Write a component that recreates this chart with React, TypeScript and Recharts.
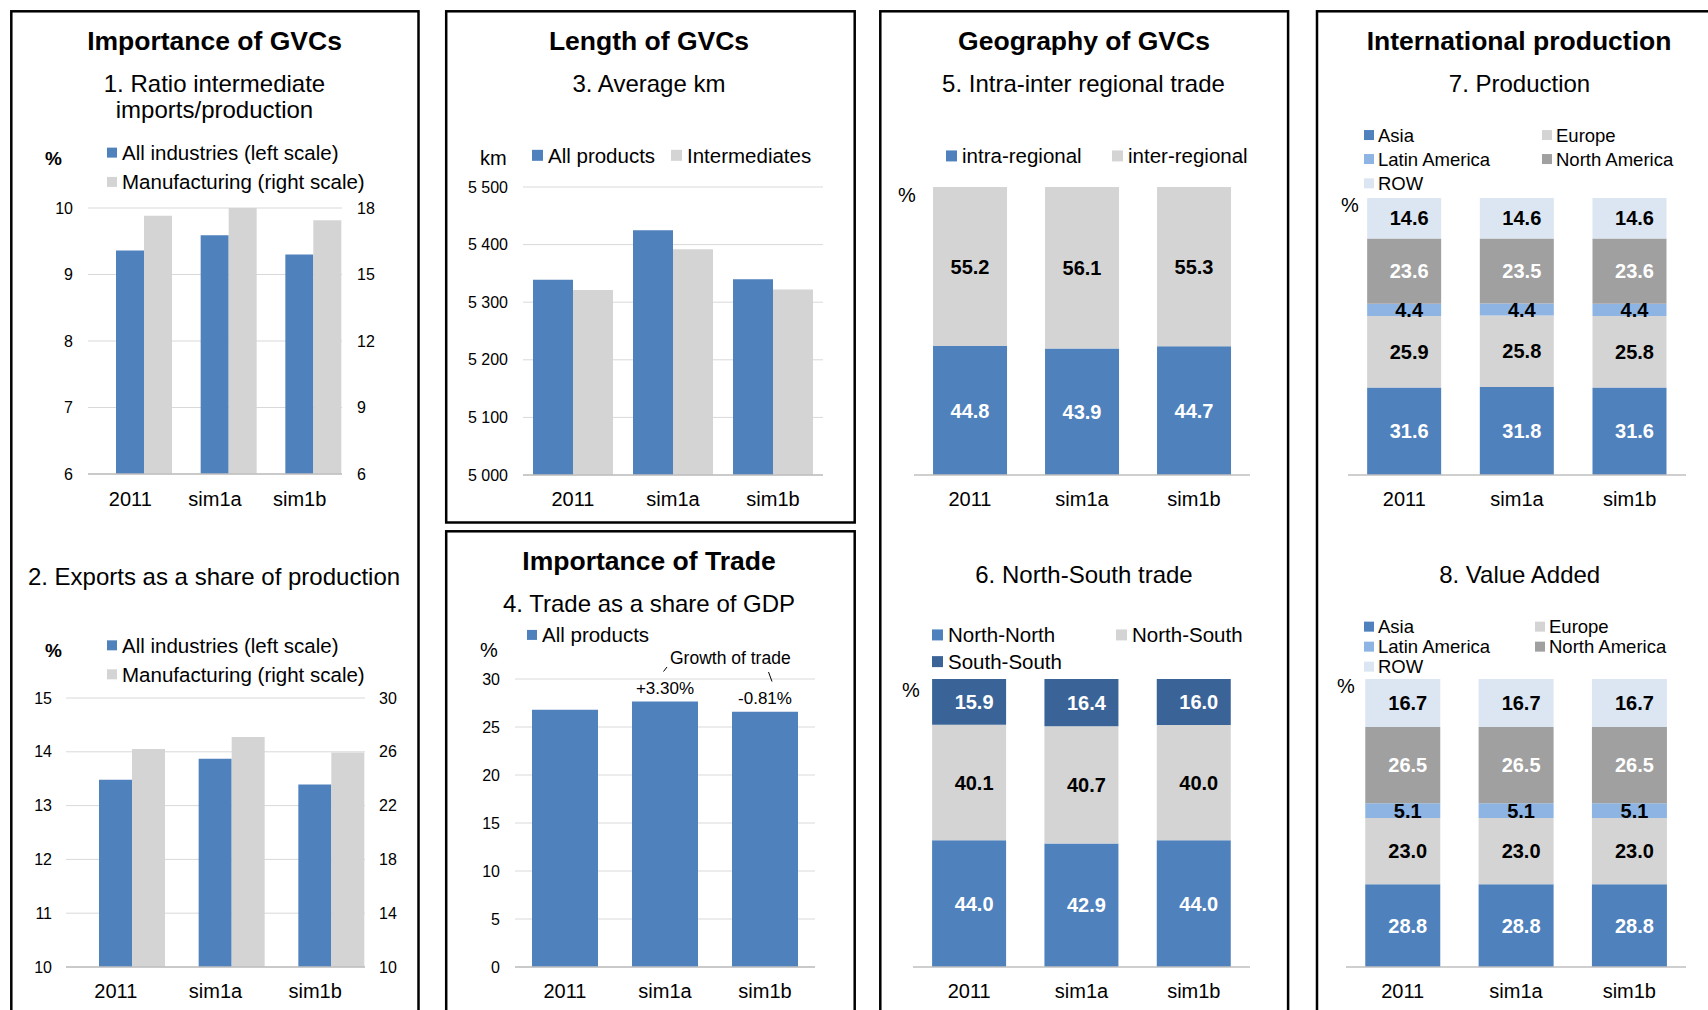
import { BarChart, Bar, XAxis, YAxis, CartesianGrid, LabelList } from 'recharts'

const categories = ['2011', 'sim1a', 'sim1b']

// 1. Ratio intermediate imports/production (%)
const ratioAll = [9.36, 9.59, 9.3]
const ratioManuf = [17.65, 18.1, 17.45]
const ratioLeftTicks = [6, 7, 8, 9, 10]
const ratioRightTicks = [6, 9, 12, 15, 18]

// 2. Exports as a share of production (%)
const exportsAll = [13.48, 13.87, 13.39]
const exportsManuf = [26.2, 27.1, 25.95]
const exportsLeftTicks = [10, 11, 12, 13, 14, 15]
const exportsRightTicks = [10, 14, 18, 22, 26, 30]

// 3. Average km
const kmAll = [5339, 5425, 5340]
const kmInter = [5321, 5392, 5322]
const kmTicks = [5000, 5100, 5200, 5300, 5400, 5500]

// 4. Trade as a share of GDP (%)
const tradeShare = [26.8, 27.65, 26.6]
const tradeGrowth = ['', '+3.30%', '-0.81%']
const tradeTicks = [0, 5, 10, 15, 20, 25, 30]

// 5. Intra-inter regional trade (%)
const intraRegional = [44.8, 43.9, 44.7]
const interRegional = [55.2, 56.1, 55.3]

// 6. North-South trade (%)
const northNorth = [44.0, 42.9, 44.0]
const northSouth = [40.1, 40.7, 40.0]
const southSouth = [15.9, 16.4, 16.0]

// 7. Production (%)
const prodAsia = [31.6, 31.8, 31.6]
const prodEurope = [25.9, 25.8, 25.8]
const prodLatAm = [4.4, 4.4, 4.4]
const prodNorthAm = [23.6, 23.5, 23.6]
const prodRow = [14.6, 14.6, 14.6]

// 8. Value Added (%)
const vaAsia = [28.8, 28.8, 28.8]
const vaEurope = [23.0, 23.0, 23.0]
const vaLatAm = [5.1, 5.1, 5.1]
const vaNorthAm = [26.5, 26.5, 26.5]
const vaRow = [16.7, 16.7, 16.7]

const FONT = '"Liberation Sans", Arial, Helvetica, sans-serif'
const BLUE = '#4F81BD'
const GREY = '#D4D4D4'
const DARK_BLUE = '#3A6497'
const LIGHT_BLUE = '#8DB4E2'
const MID_GREY = '#A0A0A0'
const PALE_BLUE = '#DCE6F2'
const AXIS_C = '#BFBFBF'
const GRID_C = '#D9D9D9'

const AXIS_W = 70
const XAXIS_H = 50

type Box = { x: number; y: number; w: number; h: number }

const rows = (cols: Record<string, Array<number | string>>) =>
  categories.map((cat, i) => {
    const r: Record<string, number | string> = { cat }
    for (const k in cols) r[k] = cols[k][i]
    return r
  })

function frame(p: Box, leftAxis: boolean, rightAxis: boolean) {
  return {
    style: { position: 'absolute' as const, left: Math.round(p.x - AXIS_W), top: Math.round(p.y - 10) },
    width: Math.round(p.w + 2 * AXIS_W),
    height: Math.round(p.h + 10 + XAXIS_H),
    margin: { top: 10, bottom: 0, left: leftAxis ? 0 : AXIS_W, right: rightAxis ? 0 : AXIS_W },
  }
}

const catAxis = (margin = 17) => (
  <XAxis
    dataKey="cat"
    height={XAXIS_H}
    interval={0}
    tickLine={false}
    tickSize={0}
    tickMargin={margin}
    axisLine={{ stroke: AXIS_C, strokeWidth: 1.5 }}
    tick={{ fill: '#000', fontSize: 20 }}
  />
)

// tick marks between categories, pointing up (Excel style)
const edgeAxis = () => (
  <XAxis
    xAxisId="edge"
    type="number"
    domain={[0, 3]}
    ticks={[0, 1, 2, 3]}
    allowDataOverflow
    mirror
    height={10}
    tick={false}
    tickSize={5}
    tickLine={{ stroke: AXIS_C, strokeWidth: 1.5 }}
    axisLine={false}
  />
)

const valueAxis = (id: string, side: 'left' | 'right', domain: number[], ticks: number[], margin: number, fmt?: (v: number) => string) => (
  <YAxis
    yAxisId={id}
    orientation={side}
    type="number"
    width={AXIS_W}
    domain={domain}
    ticks={ticks}
    allowDataOverflow
    interval={0}
    axisLine={false}
    tickLine={false}
    tickSize={0}
    tickMargin={margin}
    tickFormatter={fmt}
    tick={{ fill: '#000', fontSize: 16 }}
  />
)

const fmt1 = (v: any) => Number(v).toFixed(1)
const kmFmt = (v: number) => `${Math.floor(v / 1000)} ${String(v % 1000).padStart(3, '0')}`

type Series = { key: string; name: string; color: string; label: string }

const stackedChart = (p: Box, data: Record<string, number | string>[], series: Series[], dx: number) => {
  const f = frame(p, false, false)
  return (
    <div style={f.style}>
      <BarChart width={f.width} height={f.height} margin={f.margin} data={data} stackOffset="expand" barCategoryGap="17%">
        <YAxis hide domain={[0, 1]} />
        {edgeAxis()}
        {catAxis()}
        {series.map((s) => (
          <Bar key={s.key} dataKey={s.key} stackId="s" fill={s.color} isAnimationActive={false}>
            <LabelList dataKey={s.key} position="center" fill={s.label} fontSize={20} fontWeight="bold" formatter={fmt1} dx={dx} />
          </Bar>
        ))}
      </BarChart>
    </div>
  )
}

const geoSeries: Series[] = [
  { key: 'intra', name: 'intra-regional', color: BLUE, label: '#fff' },
  { key: 'inter', name: 'inter-regional', color: GREY, label: '#000' },
]
const nsSeries: Series[] = [
  { key: 'nn', name: 'North-North', color: BLUE, label: '#fff' },
  { key: 'ns', name: 'North-South', color: GREY, label: '#000' },
  { key: 'ss', name: 'South-South', color: DARK_BLUE, label: '#fff' },
]
const regionSeries: Series[] = [
  { key: 'asia', name: 'Asia', color: BLUE, label: '#fff' },
  { key: 'europe', name: 'Europe', color: GREY, label: '#000' },
  { key: 'latam', name: 'Latin America', color: LIGHT_BLUE, label: '#000' },
  { key: 'northam', name: 'North America', color: MID_GREY, label: '#fff' },
  { key: 'row', name: 'ROW', color: PALE_BLUE, label: '#000' },
]

const Title = ({ x, y, children }: { x: number; y: number; children: string }) => (
  <text x={x} y={y} textAnchor="middle" fontSize={26.5} fontWeight="bold" fill="#000">{children}</text>
)
const Sub = ({ x, y, children }: { x: number; y: number; children: string }) => (
  <text x={x} y={y} textAnchor="middle" fontSize={24} fill="#000">{children}</text>
)
const Unit = ({ x, y, bold, children }: { x: number; y: number; bold?: boolean; children: string }) => (
  <text x={x} y={y} fontSize={bold ? 19 : 20} fontWeight={bold ? 'bold' : 'normal'} fill="#000">{children}</text>
)
const Key = ({ x, y, color, text, size = 20.5, box = 10 }: { x: number; y: number; color: string; text: string; size?: number; box?: number }) => (
  <g>
    <rect x={x} y={y - box / 2 - size * 0.36} width={box} height={box} fill={color} />
    <text x={x + box + (size > 19 ? 5 : 4)} y={y} fontSize={size} fill="#000">{text}</text>
  </g>
)

export default function App() {
  const P1 = { x: 88, y: 208, w: 254, h: 266 }
  const P2 = { x: 66, y: 698, w: 299, h: 269 }
  const P3 = { x: 523, y: 187, w: 300, h: 288 }
  const P4 = { x: 515, y: 679, w: 300, h: 288 }
  const P5 = { x: 914, y: 187, w: 336, h: 288 }
  const P6 = { x: 913, y: 679, w: 337, h: 288 }
  const P7 = { x: 1348, y: 198, w: 338, h: 277 }
  const P8 = { x: 1346, y: 679, w: 340, h: 288 }

  const f1 = frame(P1, true, true)
  const f2 = frame(P2, true, true)
  const f3 = frame(P3, true, false)
  const f4 = frame(P4, true, false)

  return (
    <div style={{ position: 'absolute', left: 0, top: 0, width: 1708, height: 1010, overflow: 'hidden', background: '#fff', fontFamily: FONT }}>
      <div style={f1.style}>
        <BarChart width={f1.width} height={f1.height} margin={f1.margin} data={rows({ all: ratioAll, manuf: ratioManuf })} barCategoryGap={0} barGap={0}>
          <CartesianGrid yAxisId="left" vertical={false} stroke={GRID_C} />
          {valueAxis('left', 'left', [6, 10], ratioLeftTicks, 15)}
          {valueAxis('right', 'right', [6, 18], ratioRightTicks, 15)}
          {catAxis(18)}
          <Bar yAxisId="left" dataKey="gap" fill="none" isAnimationActive={false} />
          <Bar yAxisId="left" dataKey="all" fill={BLUE} isAnimationActive={false} />
          <Bar yAxisId="right" dataKey="manuf" fill={GREY} isAnimationActive={false} />
        </BarChart>
      </div>

      <div style={f2.style}>
        <BarChart width={f2.width} height={f2.height} margin={f2.margin} data={rows({ all: exportsAll, manuf: exportsManuf })} barCategoryGap={0} barGap={0}>
          <CartesianGrid yAxisId="left" vertical={false} stroke={GRID_C} />
          {valueAxis('left', 'left', [10, 15], exportsLeftTicks, 14)}
          {valueAxis('right', 'right', [10, 30], exportsRightTicks, 14)}
          {catAxis(17)}
          <Bar yAxisId="left" dataKey="gap" fill="none" isAnimationActive={false} />
          <Bar yAxisId="left" dataKey="all" fill={BLUE} isAnimationActive={false} />
          <Bar yAxisId="right" dataKey="manuf" fill={GREY} isAnimationActive={false} />
        </BarChart>
      </div>

      <div style={f3.style}>
        <BarChart width={f3.width} height={f3.height} margin={f3.margin} data={rows({ all: kmAll, inter: kmInter })} barCategoryGap="10%" barGap={0}>
          <CartesianGrid yAxisId="km" vertical={false} stroke={GRID_C} />
          {valueAxis('km', 'left', [5000, 5500], kmTicks, 15, kmFmt)}
          {edgeAxis()}
          {catAxis(17)}
          <Bar yAxisId="km" dataKey="all" fill={BLUE} isAnimationActive={false} />
          <Bar yAxisId="km" dataKey="inter" fill={GREY} isAnimationActive={false} />
        </BarChart>
      </div>

      <div style={f4.style}>
        <BarChart width={f4.width} height={f4.height} margin={f4.margin} data={rows({ share: tradeShare, growth: tradeGrowth })} barCategoryGap="17%">
          <CartesianGrid yAxisId="pct" vertical={false} stroke={GRID_C} />
          {valueAxis('pct', 'left', [0, 30], tradeTicks, 15)}
          {edgeAxis()}
          {catAxis(17)}
          <Bar yAxisId="pct" dataKey="share" fill={BLUE} isAnimationActive={false}>
            <LabelList dataKey="growth" position="top" offset={8} fill="#000" fontSize={17} />
          </Bar>
        </BarChart>
      </div>

      {stackedChart(P5, rows({ intra: intraRegional, inter: interRegional }), geoSeries, 0)}
      {stackedChart(P6, rows({ nn: northNorth, ns: northSouth, ss: southSouth }), nsSeries, 5)}
      {stackedChart(P7, rows({ asia: prodAsia, europe: prodEurope, latam: prodLatAm, northam: prodNorthAm, row: prodRow }), regionSeries, 5)}
      {stackedChart(P8, rows({ asia: vaAsia, europe: vaEurope, latam: vaLatAm, northam: vaNorthAm, row: vaRow }), regionSeries, 5)}

      <svg width={1708} height={1010} style={{ position: 'absolute', left: 0, top: 0, pointerEvents: 'none' }} fontFamily={FONT}>
        <g fill="none" stroke="#000" strokeWidth={2.5}>
          <rect x={11.3} y={11.3} width={407.2} height={1200} />
          <rect x={446.2} y={11.3} width={408.5} height={511.2} />
          <rect x={446.2} y={531.3} width={408.5} height={700} />
          <rect x={880.3} y={11.3} width={407.8} height={1200} />
          <rect x={1317} y={11.3} width={600} height={1200} />
        </g>

        <Title x={214.5} y={50}>Importance of GVCs</Title>
        <Sub x={214.5} y={91.7}>1. Ratio intermediate</Sub>
        <Sub x={214.5} y={118}>imports/production</Sub>
        <Unit x={45} y={165} bold>%</Unit>
        <Key x={107} y={160} color={BLUE} text="All industries (left scale)" />
        <Key x={107} y={189.3} color={GREY} text="Manufacturing (right scale)" />

        <Sub x={214} y={585}>2. Exports as a share of production</Sub>
        <Unit x={45} y={656.7} bold>%</Unit>
        <Key x={107} y={652.7} color={BLUE} text="All industries (left scale)" />
        <Key x={107} y={681.7} color={GREY} text="Manufacturing (right scale)" />

        <Title x={649} y={50}>Length of GVCs</Title>
        <Sub x={649} y={91.7}>3. Average km</Sub>
        <Unit x={480} y={165}>km</Unit>
        <Key x={532} y={162.7} color={BLUE} text="All products" box={11} />
        <Key x={671} y={162.7} color={GREY} text="Intermediates" box={11} />

        <Title x={649} y={570}>Importance of Trade</Title>
        <Sub x={649} y={611.7}>4. Trade as a share of GDP</Sub>
        <Unit x={480} y={657.3}>%</Unit>
        <Key x={527} y={642.3} color={BLUE} text="All products" />
        <text x={670} y={664} fontSize={17.5} fill="#000">Growth of trade</text>
        <line x1={663.5} y1={671.5} x2={667} y2={667} stroke="#000" strokeWidth={1} />
        <line x1={768.5} y1={672} x2={772} y2={681.5} stroke="#000" strokeWidth={1} />

        <Title x={1084} y={50}>Geography of GVCs</Title>
        <Sub x={1083.5} y={91.7}>5. Intra-inter regional trade</Sub>
        <Unit x={898} y={202.3}>%</Unit>
        {geoSeries.map((s, i) => (
          <Key key={s.key} x={[946, 1112][i]} y={163.3} color={s.color} text={s.name} box={11} />
        ))}

        <Sub x={1084} y={582.7}>6. North-South trade</Sub>
        <Unit x={902} y={696.7}>%</Unit>
        {nsSeries.map((s, i) => (
          <Key key={s.key} x={[932, 1116, 932][i]} y={[642.3, 642.3, 669][i]} color={s.color} text={s.name} box={11} />
        ))}

        <Title x={1519} y={50}>International production</Title>
        <Sub x={1519.5} y={91.7}>7. Production</Sub>
        <Unit x={1341} y={212.3}>%</Unit>
        {regionSeries.map((s, i) => (
          <Key key={s.key} x={i % 2 === 0 ? 1364 : 1542} y={[141.7, 141.7, 165.7, 165.7, 190][i]} color={s.color} text={s.name} size={18.5} />
        ))}

        <Sub x={1519.7} y={582.7}>8. Value Added</Sub>
        <Unit x={1337} y={693.3}>%</Unit>
        {regionSeries.map((s, i) => (
          <Key key={s.key} x={i % 2 === 0 ? 1364 : 1535} y={[633.3, 633.3, 653.3, 653.3, 673.3][i]} color={s.color} text={s.name} size={18.5} />
        ))}
      </svg>
    </div>
  )
}
